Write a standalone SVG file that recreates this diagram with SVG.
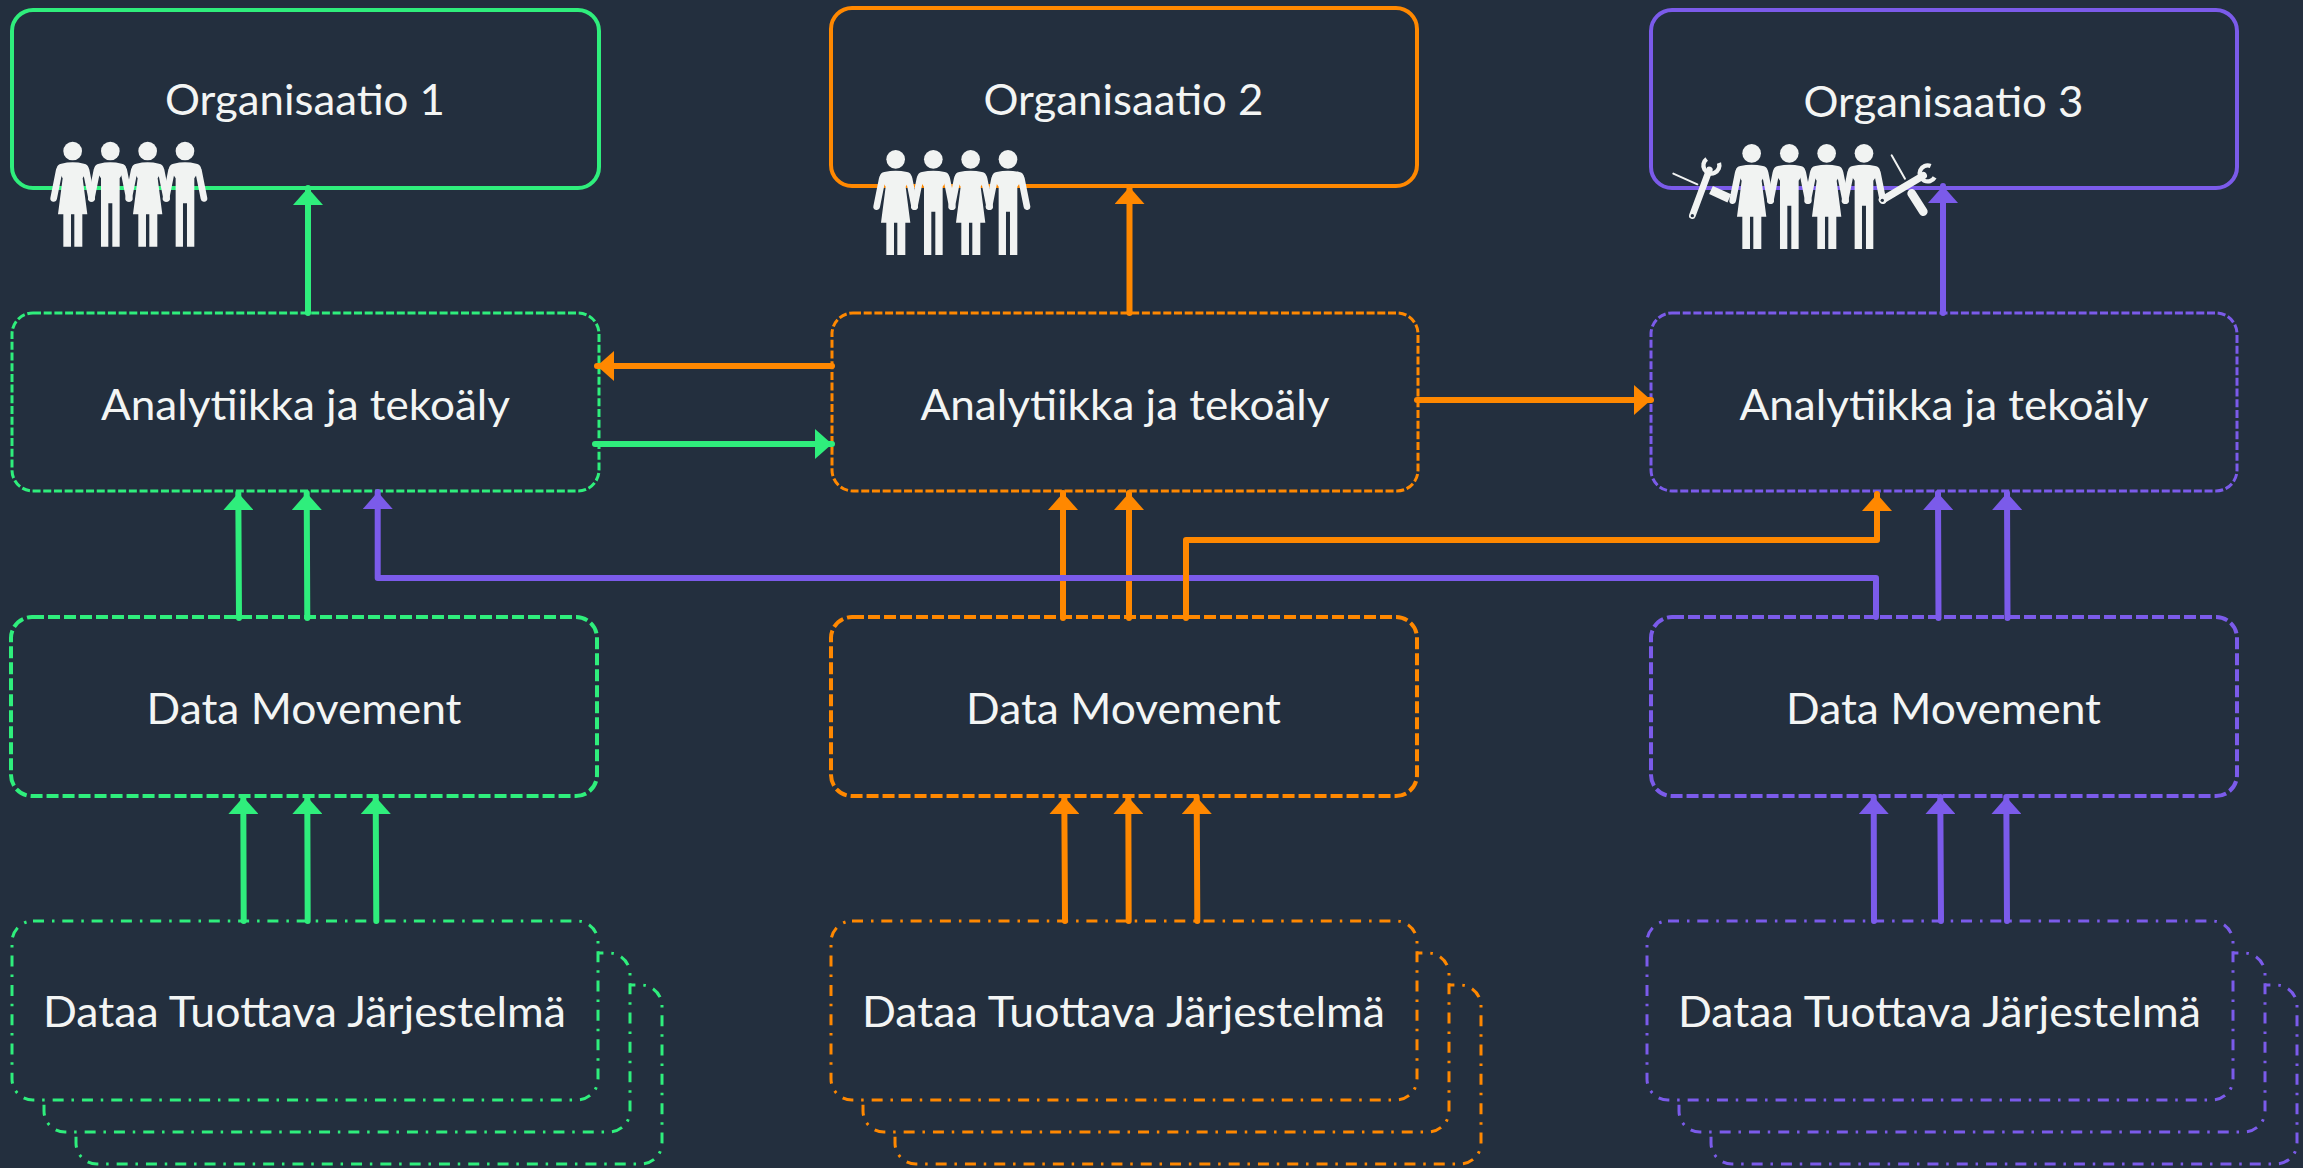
<svg xmlns="http://www.w3.org/2000/svg" xmlns:xlink="http://www.w3.org/1999/xlink" width="2303" height="1168" viewBox="0 0 2303 1168">
<style>
.box{fill:#232F3E}
.org{stroke-width:4}
.ana{stroke-width:3;stroke-dasharray:8 2.7}
.mov{stroke-width:4;stroke-dasharray:12 4}
.sys{stroke-width:3;stroke-dasharray:11 8 2.5 7.8}
.g{stroke:#2FEE7C}.o{stroke:#FF8800}.p{stroke:#7B5BEA}
.lbl{font-family:"Lato","Carlito","Liberation Sans",sans-serif;font-size:42px;fill:#F3F5F4;text-anchor:middle}
.c{fill:none;stroke-width:6}
.pf{fill:#F1F3F2}
.pa{stroke:#F1F3F2;stroke-width:20;stroke-linecap:round;fill:none}
.tl{stroke:#F1F3F2;fill:none}
</style>
<defs>
<marker id="ag" markerUnits="userSpaceOnUse" markerWidth="18" markerHeight="30" refX="17" refY="15" orient="auto"><path d="M0,0L17,15L0,30Z" fill="#2FEE7C"/></marker>
<marker id="ao" markerUnits="userSpaceOnUse" markerWidth="18" markerHeight="30" refX="17" refY="15" orient="auto"><path d="M0,0L17,15L0,30Z" fill="#FF8800"/></marker>
<marker id="ap" markerUnits="userSpaceOnUse" markerWidth="18" markerHeight="30" refX="17" refY="15" orient="auto"><path d="M0,0L17,15L0,30Z" fill="#7B5BEA"/></marker>
<g id="woman">
<circle cx="0" cy="88" r="28" class="pf"/>
<path class="pa" d="M-40,145L-57,230M40,145L57,230"/>
<path class="pf" d="M-48,140Q-46,128-34,126Q0,118 34,126Q46,128 48,140L30,170L44,278H29V375H5V278H-5V375H-28V278H-44L-30,170Z"/>
</g>
<g id="man">
<circle cx="0" cy="88" r="28" class="pf"/>
<path class="pa" d="M-40,145L-57,230M40,145L57,230"/>
<path class="pf" d="M-48,140Q-46,128-34,126Q0,118 34,126Q46,128 48,140L28,170V375H6V245H-6V375H-28V170Z"/>
</g>
<g id="people">
<use xlink:href="#woman" href="#woman" x="167"/>
<use xlink:href="#man" href="#man" x="280"/>
<use xlink:href="#woman" href="#woman" x="392"/>
<use xlink:href="#man" href="#man" x="504"/>
</g>
</defs>
<rect width="2303" height="1168" fill="#232F3E"/>

<g id="org1"><rect class="box org g" x="12" y="10" width="587" height="178" rx="21"/><text class="lbl" x="305" y="115" textLength="280" lengthAdjust="spacingAndGlyphs">Organisaatio 1</text></g>
<g id="org2"><rect class="box org o" x="831" y="8" width="586" height="178" rx="21"/><text class="lbl" x="1123.500" y="114.500" textLength="280" lengthAdjust="spacingAndGlyphs">Organisaatio 2</text></g>
<g id="org3"><rect class="box org p" x="1651" y="10" width="586" height="178" rx="21"/><text class="lbl" x="1943.500" y="116.500" textLength="280" lengthAdjust="spacingAndGlyphs">Organisaatio 3</text></g>

<g id="ana1"><rect class="box ana g" x="12" y="313" width="587" height="178" rx="21"/><text class="lbl" x="305.500" y="419.500" textLength="409" lengthAdjust="spacingAndGlyphs">Analytiikka ja tekoäly</text></g>
<g id="ana2"><rect class="box ana o" x="832" y="313" width="586" height="178" rx="21"/><text class="lbl" x="1125" y="419.500" textLength="409" lengthAdjust="spacingAndGlyphs">Analytiikka ja tekoäly</text></g>
<g id="ana3"><rect class="box ana p" x="1651" y="313" width="586" height="178" rx="21"/><text class="lbl" x="1944" y="419.500" textLength="409" lengthAdjust="spacingAndGlyphs">Analytiikka ja tekoäly</text></g>

<g id="mov1"><rect class="box mov g" x="11" y="617" width="586" height="179" rx="21"/><text class="lbl" x="304" y="723.500" textLength="315" lengthAdjust="spacingAndGlyphs">Data Movement</text></g>
<g id="mov2"><rect class="box mov o" x="831" y="617" width="586" height="179" rx="21"/><text class="lbl" x="1123.500" y="723.500" textLength="315" lengthAdjust="spacingAndGlyphs">Data Movement</text></g>
<g id="mov3"><rect class="box mov p" x="1651" y="617" width="586" height="179" rx="21"/><text class="lbl" x="1943.500" y="723.500" textLength="315" lengthAdjust="spacingAndGlyphs">Data Movement</text></g>

<g id="sys1">
<rect class="box sys g" x="76" y="985" width="586" height="179" rx="21"/>
<rect class="box sys g" x="44" y="953" width="586" height="179" rx="21"/>
<rect class="box sys g" x="12" y="921" width="586" height="179" rx="21"/>
<text class="lbl" x="304.500" y="1027" textLength="523" lengthAdjust="spacingAndGlyphs">Dataa Tuottava Järjestelmä</text></g>
<g id="sys2">
<rect class="box sys o" x="895" y="985" width="586" height="179" rx="21"/>
<rect class="box sys o" x="863" y="953" width="586" height="179" rx="21"/>
<rect class="box sys o" x="831" y="921" width="586" height="179" rx="21"/>
<text class="lbl" x="1123.500" y="1027" textLength="523" lengthAdjust="spacingAndGlyphs">Dataa Tuottava Järjestelmä</text></g>
<g id="sys3">
<rect class="box sys p" x="1711" y="985" width="586" height="179" rx="21"/>
<rect class="box sys p" x="1679" y="953" width="586" height="179" rx="21"/>
<rect class="box sys p" x="1647" y="921" width="586" height="179" rx="21"/>
<text class="lbl" x="1939.500" y="1027" textLength="523" lengthAdjust="spacingAndGlyphs">Dataa Tuottava Järjestelmä</text></g>

<g id="connectors" stroke-linecap="round" stroke-linejoin="round">
<path class="c g" marker-end="url(#ag)" d="M308,313V188"/>
<path class="c o" marker-end="url(#ao)" d="M1129.500,313V187"/>
<path class="c p" marker-end="url(#ap)" d="M1943,313V186"/>
<path class="c o" marker-end="url(#ao)" d="M832,366H597"/>
<path class="c g" marker-end="url(#ag)" d="M595,444H832"/>
<path class="c o" marker-end="url(#ao)" d="M1417,400H1651"/>
<path class="c g" marker-end="url(#ag)" d="M239,618L238.300,493"/>
<path class="c g" marker-end="url(#ag)" d="M307.300,618L306.700,493"/>
<path class="c o" marker-end="url(#ao)" d="M1063,618V493"/>
<path class="c o" marker-end="url(#ao)" d="M1129,618V493"/>
<path class="c p" marker-end="url(#ap)" d="M1938.500,618L1938,493"/>
<path class="c p" marker-end="url(#ap)" d="M2007.500,618L2007,493"/>
<path class="c p" marker-end="url(#ap)" d="M1876,617V578H377.700V492"/>
<path class="c o" marker-end="url(#ao)" d="M1186,618V540H1877V494"/>
<path class="c g" marker-end="url(#ag)" d="M243.700,921L243.300,797"/>
<path class="c g" marker-end="url(#ag)" d="M307.700,921L307.300,797"/>
<path class="c g" marker-end="url(#ag)" d="M376.300,921L375.700,797"/>
<path class="c o" marker-end="url(#ao)" d="M1065,921L1064.300,797"/>
<path class="c o" marker-end="url(#ao)" d="M1128.700,921L1128.300,797"/>
<path class="c o" marker-end="url(#ao)" d="M1197.300,921L1196.700,797"/>
<path class="c p" marker-end="url(#ap)" d="M1874,921L1873.700,797"/>
<path class="c p" marker-end="url(#ap)" d="M1941,921L1940.300,797"/>
<path class="c p" marker-end="url(#ap)" d="M2007,921L2006.300,797"/>
</g>

<g id="people1" transform="translate(17,121.700) scale(.3333)"><use xlink:href="#people" href="#people"/></g>
<g id="people2" transform="translate(840,130) scale(.3333)"><use xlink:href="#people" href="#people"/></g>
<g id="people3" transform="translate(1660,130) scale(.3333)">
<use xlink:href="#people" href="#people" x="108" y="-18"/>
<path class="tl" stroke-width="27" d="M208,205L153,180"/>
<path class="tl" stroke-width="20" stroke-linecap="round" d="M97,257L148,120"/>
<path class="tl" stroke-width="13" d="M140,87A24,24 0 1 0 177,99"/>
<circle cx="97" cy="257" r="5" fill="#232F3E"/>
<path class="tl" stroke-width="6" stroke-linecap="round" d="M40,131L112,163"/>
<path class="tl" stroke-width="6" stroke-linecap="round" d="M695,76L735,146"/>
<path class="tl" stroke-width="26" stroke-linecap="round" d="M755,190L790,245"/>
<path class="tl" stroke-width="22" stroke-linecap="round" d="M667,210L790,137"/>
<path class="tl" stroke-width="13" d="M812,108A24,24 0 1 0 824,142"/>
<circle cx="667" cy="211" r="5" fill="#232F3E"/>
</g>
</svg>
